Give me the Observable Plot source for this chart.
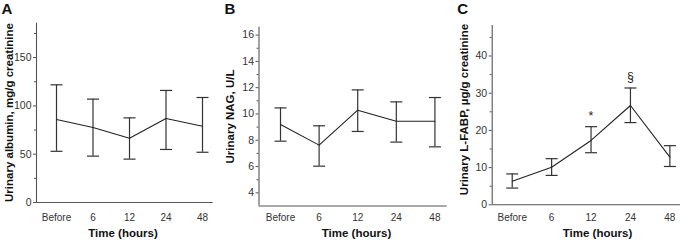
<!DOCTYPE html>
<html><head><meta charset="utf-8">
<script src="https://cdn.jsdelivr.net/npm/d3@7"></script>
<script src="https://cdn.jsdelivr.net/npm/@observablehq/plot@0.6"></script>
<style>
body{margin:0;background:#fff}
#row{display:flex;width:680px;height:240px;overflow:hidden}
#row svg{display:block;overflow:visible}
</style>
</head><body><div id="row"></div>
<script>
// ---- data ----
const timepoints = ["Before", "6", "12", "24", "48"];
const xTitle = "Time (hours)";

const albuminMean = [86, 77.6, 66.6, 87, 79];
const albuminLow  = [53, 48, 44.9, 54.9, 52];
const albuminHigh = [121.8, 107, 87.6, 116, 108.7];

const nagMean = [9.2, 7.63, 10.29, 9.45, 9.45];
const nagLow  = [7.93, 6.03, 8.67, 7.86, 7.5];
const nagHigh = [10.46, 9.1, 11.83, 10.92, 11.25];

const lfabpMean = [6.35, 10.1, 17.3, 26.7, 12.8];
const lfabpLow  = [4.5, 7.9, 14, 22.1, 10.3];
const lfabpHigh = [8.3, 12.4, 21, 31.4, 15.9];
const lfabpSig  = ["", "", "*", "§", ""];

const albuminTicks = [0, 50, 100, 150];
const albuminMinor = [25, 75, 125, 175];
const nagTicks = [4, 6, 8, 10, 12, 14, 16];
const nagMinor = [5, 7, 9, 11, 13, 15];
const lfabpTicks = [0, 10, 20, 30, 40];
const lfabpMinor = [5, 15, 25, 35, 45];

const FONT = "'Liberation Sans', Arial, Helvetica, sans-serif";

// horizontal cap symbol for error bars
const capSymbol = {
  draw(context, size) {
    const r = Math.sqrt(size / Math.PI);
    context.moveTo(-r, 0);
    context.lineTo(r, 0);
  }
};

function panel(cfg) {
  const rows = timepoints.map((t, i) => ({
    i, t, mean: cfg.mean[i], low: cfg.low[i], high: cfg.high[i],
    sig: cfg.sig ? cfg.sig[i] : ""
  }));
  const axisY0 = 240 - cfg.mb;
  const frameCx = (cfg.ml + (cfg.width - cfg.mr)) / 2;
  const frameCy = (cfg.mt + axisY0) / 2;
  const marks = [
    Plot.ruleX([cfg.xDomain[0]], {stroke: "#555", strokeWidth: 1.1}),
    Plot.ruleY([cfg.yDomain[0]], {stroke: "#555", strokeWidth: 1.1}),
    Plot.axisY(cfg.ticks, {tickSize: 3, tickPadding: 2, fontSize: 10.5, fill: "#333", stroke: "#555", label: null}),
    Plot.axisY(cfg.minor, {tickSize: 2, tickFormat: () => "", stroke: "#555", label: null}),
    Plot.axisX(timepoints.map((t, i) => i), {
      tickSize: 0, tickPadding: 216.7 - axisY0 - 3.5,
      tickFormat: i => timepoints[i], fontSize: 10, fill: "#333", label: null
    }),
    Plot.ruleX(rows, {x: "i", y1: "low", y2: "high", stroke: "#333", strokeWidth: 1.2}),
    Plot.dot(rows, {x: "i", y: "low", symbol: capSymbol, r: 6, stroke: "#333", strokeWidth: 1.2}),
    Plot.dot(rows, {x: "i", y: "high", symbol: capSymbol, r: 6, stroke: "#333", strokeWidth: 1.2}),
    Plot.line(rows, {x: "i", y: "mean", stroke: "#222", strokeWidth: 1.1}),
    Plot.text(rows.filter(d => d.sig), {x: "i", y: "high", text: "sig", dy: -11, fontSize: 12.5, fill: "#222"}),
    Plot.text([cfg.letter], {frameAnchor: "top-left", textAnchor: "start", lineAnchor: "top",
      dx: cfg.letterX - cfg.ml, dy: 3 - cfg.mt, fontSize: 15, fontWeight: "bold", fill: "#111"}),
    Plot.text([cfg.yLabel], {frameAnchor: "left", textAnchor: "middle", lineAnchor: "middle", rotate: -90,
      dx: cfg.yLabelX - cfg.ml, dy: cfg.yLabelY - frameCy, fontSize: 11.5, fontWeight: "bold", fill: "#111"}),
    Plot.text([xTitle], {frameAnchor: "bottom", textAnchor: "middle", lineAnchor: "middle",
      dx: cfg.xLabelX - frameCx, dy: 233 - axisY0, fontSize: 11.5, fontWeight: "bold", fill: "#111"})
  ];
  return Plot.plot({
    width: cfg.width, height: 240,
    marginLeft: cfg.ml, marginRight: cfg.mr, marginTop: cfg.mt, marginBottom: cfg.mb,
    style: {fontFamily: FONT, background: "#fff"},
    x: {type: "linear", domain: cfg.xDomain, axis: null},
    y: {domain: cfg.yDomain, axis: null},
    marks
  });
}

const row = document.getElementById("row");
row.append(panel({
  letter: "A", letterX: 1, width: 222, ml: 36, mr: 9.3, mt: 22.7, mb: 38,
  yDomain: [0, 185.6], xDomain: [-0.548, 4.293],
  ticks: albuminTicks, minor: albuminMinor,
  mean: albuminMean, low: albuminLow, high: albuminHigh,
  yLabel: "Urinary albumin, mg/g creatinine", yLabelX: 8.5, yLabelY: 112, xLabelX: 122.5
}));
row.append(panel({
  letter: "B", letterX: 2, width: 231, ml: 36.5, mr: 6.3, mt: 26.7, mb: 34.5,
  yDomain: [3, 16.6], xDomain: [-0.557, 4.318],
  ticks: nagTicks, minor: nagMinor,
  mean: nagMean, low: nagLow, high: nagHigh,
  yLabel: "Urinary NAG, U/L", yLabelX: 8, yLabelY: 116, xLabelX: 134
}));
row.append(panel({
  letter: "C", letterX: 3.7, width: 227, ml: 38.7, mr: 0, mt: 25, mb: 35.7,
  yDomain: [0, 48.2], xDomain: [-0.508, 4.27],
  ticks: lfabpTicks, minor: lfabpMinor,
  mean: lfabpMean, low: lfabpLow, high: lfabpHigh, sig: lfabpSig,
  yLabel: "Urinary L-FABP, µg/g creatinine", yLabelX: 10.5, yLabelY: 109, xLabelX: 144
}));
</script>
</body></html>
